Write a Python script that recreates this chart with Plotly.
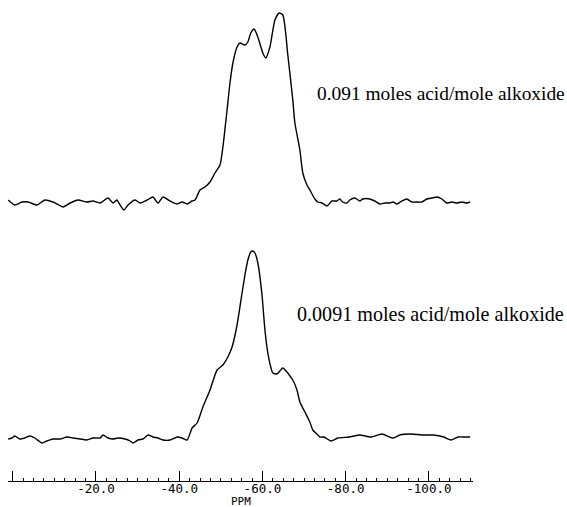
import plotly.graph_objects as go

# ---- data (ppm, arbitrary intensity units) ----
top_ppm = [1.1, -0.5, -2.2, -3.7, -5.8, -7.7, -9.7, -12.1, -13.8, -15.7, -17.8, -19.3, -21.0, -22.9,
           -24.1, -25.0, -25.8, -26.7, -27.7, -29.4, -30.6, -32.3, -33.7, -34.9, -36.1, -37.8, -39.5,
           -40.7, -41.9, -43.1, -43.8,
           -45.0, -46.2, -47.4, -48.6, -49.8, -50.5, -51.5, -52.2, -52.9, -53.9, -54.6, -55.8, -56.5,
           -57.2, -58.0, -58.9, -60.1, -60.8, -61.8, -63.0, -64.0, -64.9, -66.1, -67.3, -67.8, -69.0,
           -69.7, -70.7, -71.4,
           -72.6, -73.3, -74.3, -75.5, -76.7, -77.9, -78.6, -79.3, -80.3, -81.0, -82.2, -83.4, -84.1,
           -85.8, -87.0, -88.2, -89.4, -90.6, -91.4, -92.3, -93.5, -94.7, -95.9, -97.1, -98.3, -99.5,
           -100.7, -101.9, -103.1, -104.3, -105.5, -106.7, -107.9, -109.1, -109.9]
top_int = [2, -3, 0, 0, -3, 2, 0, -5, -1, 2, 0, 1, -1, 4, -1, 2, -3, -8, -3, 2, -1, 2, 5, -1, 5, 1,
           -2, 0, -2, 1, 2,
           12, 15, 20, 29, 37, 55, 92, 119, 139, 155, 159, 157, 160, 169, 173, 165, 149, 144, 155, 182,
           189, 187, 147, 102, 79, 52, 29, 17, 12,
           3, 0, -1, -4, 1, 1, 3, 0, -1, 2, 4, 1, 3, 3, 1, -2, -1, -1, 0, -2, 1, 3, 0, 0, 0, 3, 4, 5,
           3, -1, 0, -1, 0, -1, 0]

bot_ppm = [1.1, 0.2, -0.5, -1.7, -2.9, -4.1, -5.3, -7.0, -8.2, -9.7, -11.4, -13.0, -14.5, -16.2,
           -17.8, -19.3, -21.0, -21.7, -22.9, -24.1, -25.3, -27.0, -28.2, -28.9, -30.1, -31.3, -32.5,
           -33.7, -34.9, -36.1, -37.8, -39.5, -40.7, -41.9,
           -43.1, -44.3, -45.7, -47.4, -49.1, -50.5, -51.7, -52.7, -53.9, -55.1, -55.8, -56.5, -57.2,
           -57.7, -58.2, -58.9, -59.9, -60.6, -61.3, -62.0, -62.5, -63.5, -64.2, -64.9, -65.9, -66.6,
           -67.3, -68.3, -69.0, -70.2, -71.4, -72.1, -73.1, -73.8,
           -74.8, -76.5, -78.1, -80.8, -83.4, -86.1, -88.7, -91.4, -93.0, -95.7, -98.3, -101.0,
           -103.6, -105.3, -107.0, -108.7, -109.9]
bot_int = [0, 1, 3, 0, 1, 3, 1, -4, -2, 0, 0, 2, 1, 0, -1, 1, 1, 4, 1, 0, 1, 0, -2, -4, -1, 0, 4, 2,
           1, -1, -1, 2, 1, -1,
           11, 16, 32, 49, 69, 74, 82, 92, 114, 146, 164, 179, 187, 188, 186, 176, 144, 109, 86, 72,
           66, 65, 68, 71, 67, 63, 59, 49, 37, 27, 17, 9, 5, 2,
           2, -2, 1, 2, 4, 2, 5, 1, 4, 5, 4, 4, 2, -1, 2, 2, 2]

top_offset = 237
labels = ["0.091 moles acid/mole alkoxide", "0.0091 moles acid/mole alkoxide"]
label_pos = [(-72.7, 346), (-67.9, 125)]
label_sizes = [19.4, 20.1]
tick_vals = [0, -20, -40, -60, -80, -100]
tick_text = ["", "-20.0", "-40.0", "-60.0", "-80.0", "-100.0"]
axis_title = "PPM"

line_style = dict(color="black", width=1.4, shape="spline", smoothing=0.6)

fig = go.Figure()
fig.add_trace(go.Scatter(x=top_ppm, y=[v + top_offset for v in top_int], mode="lines",
                         line=line_style, showlegend=False, hoverinfo="skip"))
fig.add_trace(go.Scatter(x=bot_ppm, y=bot_int, mode="lines",
                         line=line_style, showlegend=False, hoverinfo="skip"))

for txt, (px, py), fs in zip(labels, label_pos, label_sizes):
    fig.add_annotation(x=px, y=py, text=txt, showarrow=False, xanchor="left", yanchor="middle",
                       font=dict(family="Liberation Serif", size=fs, color="black"))

mono = "DejaVu Sans Mono"
fig.add_annotation(x=0.5, y=0, xref="paper", yref="paper", text=axis_title, showarrow=False,
                   xanchor="center", yanchor="middle", yshift=-20,
                   font=dict(family=mono, size=11, color="black"))

fig.update_layout(
    width=567, height=507,
    margin=dict(l=8, r=94, t=0, b=26),
    paper_bgcolor="white", plot_bgcolor="white",
    xaxis=dict(range=[1.14, -110.6], showgrid=False, zeroline=False,
               showline=True, linecolor="black", linewidth=1.2,
               tickmode="array", tickvals=tick_vals, ticktext=tick_text,
               ticks="inside", ticklen=10, tickwidth=1, tickcolor="black",
               tickfont=dict(family=mono, size=12.5, color="black"),
               ticklabelstandoff=-4,
               minor=dict(ticks="inside", dtick=2.5, tick0=0, ticklen=3, tickwidth=1,
                          tickcolor="black", showgrid=False)),
    yaxis=dict(range=[-42, 439], visible=False, showgrid=False, zeroline=False),
)

fig.write_html("out.html")
